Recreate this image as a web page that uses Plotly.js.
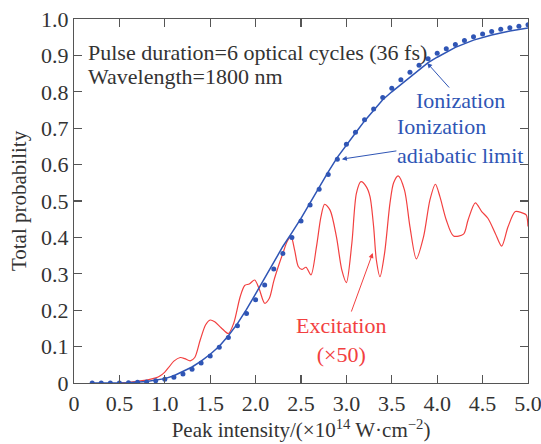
<!DOCTYPE html>
<html>
<head>
<meta charset="utf-8">
<script src="https://cdn.plot.ly/plotly-3.0.1.min.js"></script>
<style>html,body{margin:0;padding:0;background:#fff;}#chart{width:541px;height:444px;}</style>
</head>
<body>
<div id="chart"></div>
<script>
// Ionization (solid blue line)
const ionX = [0.2,0.4,0.6,0.8,0.9,1.0,1.1,1.2,1.3,1.4,1.5,1.6,1.7,1.8,1.9,2.0,2.1,2.2,2.3,2.4,2.5,2.6,2.7,2.8,2.9,3.0,3.1,3.2,3.3,3.4,3.5,3.6,3.7,3.8,3.9,4.0,4.2,4.4,4.6,4.8,5.0];
const ionY = [0,0.0005,0.001,0.004,0.007,0.012,0.02,0.031,0.044,0.06,0.079,0.101,0.13,0.163,0.202,0.245,0.289,0.333,0.375,0.413,0.452,0.495,0.539,0.58,0.62,0.652,0.687,0.72,0.75,0.778,0.80,0.82,0.84,0.862,0.88,0.895,0.922,0.942,0.956,0.967,0.975];

// Ionization adiabatic limit (blue dots)
const adX = [0.2,0.3,0.4,0.5,0.6,0.7,0.8,0.9,1.0,1.1,1.2,1.3,1.4,1.5,1.6,1.7,1.8,1.9,2.0,2.1,2.2,2.3,2.4,2.5,2.6,2.7,2.8,2.9,3.0,3.1,3.2,3.3,3.4,3.5,3.6,3.7,3.8,3.9,4.0,4.1,4.2,4.3,4.4,4.5,4.6,4.7,4.8,4.9,5.0];
const adY = [0,0,0,0,0.001,0.002,0.003,0.006,0.010,0.016,0.025,0.038,0.055,0.074,0.098,0.125,0.157,0.191,0.229,0.269,0.313,0.356,0.400,0.445,0.489,0.532,0.573,0.615,0.656,0.689,0.723,0.753,0.784,0.810,0.833,0.854,0.873,0.891,0.906,0.918,0.930,0.941,0.951,0.959,0.966,0.972,0.976,0.980,0.984];

// Excitation (x50) (red line)
const exX = [0.5,0.6,0.7,0.8,0.9,0.95,1.0,1.05,1.1,1.17,1.22,1.28,1.33,1.39,1.45,1.5,1.55,1.62,1.7,1.76,1.83,1.88,1.93,1.99,2.04,2.1,2.15,2.2,2.25,2.3,2.35,2.39,2.43,2.47,2.51,2.555,2.61,2.67,2.72,2.76,2.82,2.89,2.95,3.0,3.06,3.11,3.16,3.22,3.26,3.30,3.33,3.37,3.42,3.48,3.52,3.57,3.64,3.70,3.77,3.85,3.92,3.98,4.03,4.10,4.18,4.29,4.34,4.42,4.49,4.56,4.64,4.71,4.78,4.86,4.93,4.98,5.0];
const exY = [0,0.002,0.005,0.008,0.014,0.02,0.03,0.045,0.06,0.07,0.067,0.061,0.07,0.118,0.16,0.173,0.168,0.152,0.136,0.165,0.237,0.268,0.272,0.283,0.258,0.219,0.232,0.28,0.32,0.356,0.39,0.402,0.365,0.32,0.312,0.318,0.297,0.374,0.457,0.491,0.475,0.402,0.31,0.276,0.384,0.521,0.553,0.539,0.512,0.429,0.338,0.292,0.356,0.494,0.55,0.569,0.53,0.429,0.341,0.402,0.503,0.546,0.512,0.448,0.404,0.409,0.448,0.495,0.471,0.452,0.411,0.376,0.429,0.471,0.468,0.462,0.43];

const xTickVals = [0,0.5,1.0,1.5,2.0,2.5,3.0,3.5,4.0,4.5,5.0];
const xTickText = ['0','0.5','1.0','1.5','2.0','2.5','3.0','3.5','4.0','4.5','5.0'];
const yTickVals = [0,0.1,0.2,0.3,0.4,0.5,0.6,0.7,0.8,0.9,1.0];
const yTickText = ['0','0.1','0.2','0.3','0.4','0.5','0.6','0.7','0.8','0.9','1.0'];

const BLUE = '#2f55b5';
const RED = '#f24040';
const FONT = '"Liberation Serif", serif';

const traces = [
  {x: exX, y: exY, mode: 'lines', line: {color: RED, width: 1.2, shape: 'spline', smoothing: 0.8}, hoverinfo: 'skip'},
  {x: ionX, y: ionY, mode: 'lines', line: {color: BLUE, width: 1.5}, hoverinfo: 'skip'},
  {x: adX, y: adY, mode: 'markers', marker: {color: BLUE, size: 5}, hoverinfo: 'skip'}
];

const axisCommon = {
  showgrid: false, zeroline: false, showline: true, linecolor: '#555', linewidth: 1.2,
  mirror: 'allticks', ticks: 'inside', ticklen: 8, tickcolor: '#555', tickwidth: 1.2,
  tickfont: {family: FONT, size: 22, color: '#333'}, tickmode: 'array', ticklabeloverflow: 'allow'
};

const layout = {
  width: 541, height: 444,
  margin: {l: 74, r: 13, t: 19, b: 61},
  paper_bgcolor: '#fff', plot_bgcolor: '#fff',
  showlegend: false,
  font: {family: FONT, color: '#333', size: 22},
  xaxis: Object.assign({}, axisCommon, {
    range: [0, 5.0], tickvals: xTickVals, ticktext: xTickText,
    title: {text: 'Peak intensity/(×10<sup>14</sup> W·cm<sup>−2</sup>)', font: {family: FONT, size: 21, color: '#333'}, standoff: 6}
  }),
  yaxis: Object.assign({}, axisCommon, {
    range: [0, 1.0], tickvals: yTickVals, ticktext: yTickText,
    title: {text: 'Total probability', font: {family: FONT, size: 21, color: '#333'}, standoff: 8}
  }),
  annotations: [
    {x: 0.13, y: 0.909, xref: 'x', yref: 'y', text: 'Pulse duration=6 optical cycles (36 fs)', showarrow: false, xanchor: 'left', yanchor: 'middle', font: {family: FONT, size: 22, color: '#333'}},
    {x: 0.13, y: 0.843, xref: 'x', yref: 'y', text: 'Wavelength=1800 nm', showarrow: false, xanchor: 'left', yanchor: 'middle', font: {family: FONT, size: 22, color: '#333'}},
    {x: 3.89, y: 0.879, ax: 4.26, ay: 0.776, xref: 'x', yref: 'y', axref: 'x', ayref: 'y', text: 'Ionization', showarrow: true, borderpad: 0, arrowhead: 2, arrowsize: 1, arrowwidth: 1, arrowcolor: BLUE, font: {family: FONT, size: 22, color: BLUE}},
    {x: 2.95, y: 0.615, ax: 4.25, ay: 0.664, xref: 'x', yref: 'y', axref: 'x', ayref: 'y', text: 'Ionization<br>adiabatic limit', align: 'left', showarrow: true, borderpad: 0, arrowhead: 2, arrowsize: 1, arrowwidth: 1, arrowcolor: BLUE, font: {family: FONT, size: 22, color: BLUE}},
    {x: 3.29, y: 0.357, ax: 2.94, ay: 0.118, xref: 'x', yref: 'y', axref: 'x', ayref: 'y', text: 'Excitation<br>(×50)', align: 'center', showarrow: true, arrowhead: 2, arrowsize: 1, arrowwidth: 1, arrowcolor: RED, font: {family: FONT, size: 22, color: RED}}
  ]
};

Plotly.newPlot('chart', traces, layout, {staticPlot: true, displayModeBar: false});
</script>
</body>
</html>
